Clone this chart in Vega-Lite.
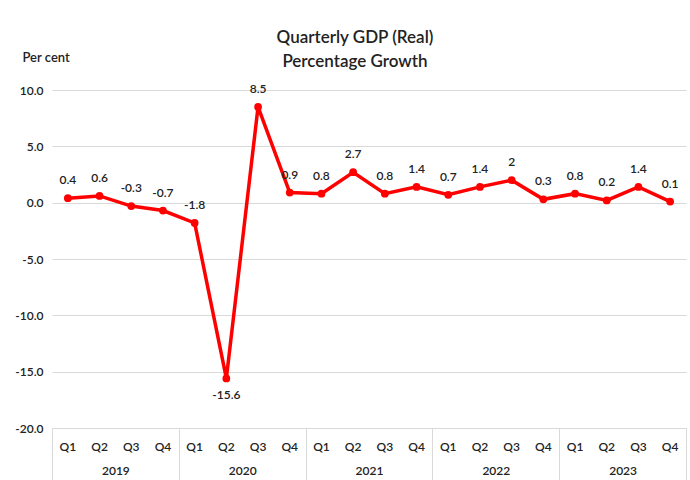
{
  "$schema": "https://vega.github.io/schema/vega-lite/v6.json",
  "autosize": "none",
  "width": 634,
  "height": 338,
  "padding": {"left": 52, "top": 90, "right": 4, "bottom": 52},
  "background": "white",
  "config": {
    "view": {"stroke": null},
    "font": "Lato"
  },
  "title": {
    "text": ["Quarterly GDP (Real)", "Percentage Growth"],
    "font": "Lato",
    "fontSize": 17,
    "fontWeight": 600,
    "color": "#222222",
    "lineHeight": 24,
    "anchor": "middle",
    "frame": "group",
    "dx": -14,
    "dy": 42,
    "offset": 22
  },
  "data": {
    "values": [
      {"key": "2019-Q1", "year": "2019", "v": 0.4},
      {"key": "2019-Q2", "year": "2019", "v": 0.6},
      {"key": "2019-Q3", "year": "2019", "v": -0.3},
      {"key": "2019-Q4", "year": "2019", "v": -0.7},
      {"key": "2020-Q1", "year": "2020", "v": -1.8},
      {"key": "2020-Q2", "year": "2020", "v": -15.6},
      {"key": "2020-Q3", "year": "2020", "v": 8.5},
      {"key": "2020-Q4", "year": "2020", "v": 0.9},
      {"key": "2021-Q1", "year": "2021", "v": 0.8},
      {"key": "2021-Q2", "year": "2021", "v": 2.7},
      {"key": "2021-Q3", "year": "2021", "v": 0.8},
      {"key": "2021-Q4", "year": "2021", "v": 1.4},
      {"key": "2022-Q1", "year": "2022", "v": 0.7},
      {"key": "2022-Q2", "year": "2022", "v": 1.4},
      {"key": "2022-Q3", "year": "2022", "v": 2},
      {"key": "2022-Q4", "year": "2022", "v": 0.3},
      {"key": "2023-Q1", "year": "2023", "v": 0.8},
      {"key": "2023-Q2", "year": "2023", "v": 0.2},
      {"key": "2023-Q3", "year": "2023", "v": 1.4},
      {"key": "2023-Q4", "year": "2023", "v": 0.1}
    ]
  },
  "resolve": {"scale": {"x": "independent"}, "axis": {"x": "independent"}},
  "encoding": {
    "y": {
      "field": "v",
      "type": "quantitative",
      "scale": {"domain": [-20, 10], "nice": false, "zero": false},
      "axis": {
        "values": [-20, -15, -10, -5, 0, 5, 10],
        "labelExpr": "(datum.value < 0 ? '-' : '') + format(abs(datum.value), '.1f')",
        "labelFontSize": 12,
        "labelFontWeight": 600,
        "labelColor": "#222222",
        "labelPadding": 9,
        "ticks": false,
        "domain": false,
        "grid": true,
        "gridColor": "#d9d9d9",
        "gridWidth": 1,
        "title": "Per cent",
        "titleAngle": 0,
        "titleAlign": "left",
        "titleBaseline": "middle",
        "titleX": -30,
        "titleY": -33,
        "titleFontSize": 13,
        "titleFontWeight": 600,
        "titleColor": "#222222"
      }
    }
  },
  "layer": [
    {
      "mark": {"type": "rule", "opacity": 0},
      "encoding": {
        "x": {
          "field": "year",
          "type": "ordinal",
          "scale": {"type": "band", "paddingInner": 0, "paddingOuter": 0},
          "axis": {
            "orient": "bottom",
            "title": null,
            "labelAngle": 0,
            "labelFontSize": 12,
            "labelFontWeight": 600,
            "labelColor": "#222222",
            "labelBaseline": "middle",
            "labelPadding": -10,
            "domain": true,
            "domainColor": "#d9d9d9",
            "ticks": true,
            "tickBand": "extent",
            "tickSize": 52,
            "tickColor": "#d9d9d9",
            "grid": false
          }
        },
        "y": {"value": 0}
      }
    },
    {
      "layer": [
        {
          "mark": {"type": "line", "color": "#ff0000", "strokeWidth": 3.5},
          "encoding": {}
        },
        {
          "mark": {"type": "point", "filled": true, "color": "#ff0000", "opacity": 1, "size": 60},
          "encoding": {}
        },
        {
          "transform": [{"filter": "datum.v >= -10"}],
          "mark": {"type": "text", "dy": -18, "fontSize": 12, "font": "Lato", "fontWeight": 600, "color": "#222222"},
          "encoding": {"text": {"field": "v", "type": "nominal"}}
        },
        {
          "transform": [{"filter": "datum.v < -10"}],
          "mark": {"type": "text", "dy": 17, "fontSize": 12, "font": "Lato", "fontWeight": 600, "color": "#222222"},
          "encoding": {"text": {"field": "v", "type": "nominal"}}
        }
      ],
      "encoding": {
        "x": {
          "field": "key",
          "type": "nominal",
          "sort": null,
          "scale": {"type": "band", "paddingInner": 0, "paddingOuter": 0},
          "axis": {
            "orient": "bottom",
            "title": null,
            "labelAngle": 0,
            "labelExpr": "split(datum.value, '-')[1]",
            "labelFontSize": 12,
            "labelFontWeight": 600,
            "labelColor": "#222222",
            "labelBaseline": "middle",
            "labelPadding": 18,
            "domain": false,
            "ticks": false,
            "grid": false
          }
        }
      }
    }
  ]
}
